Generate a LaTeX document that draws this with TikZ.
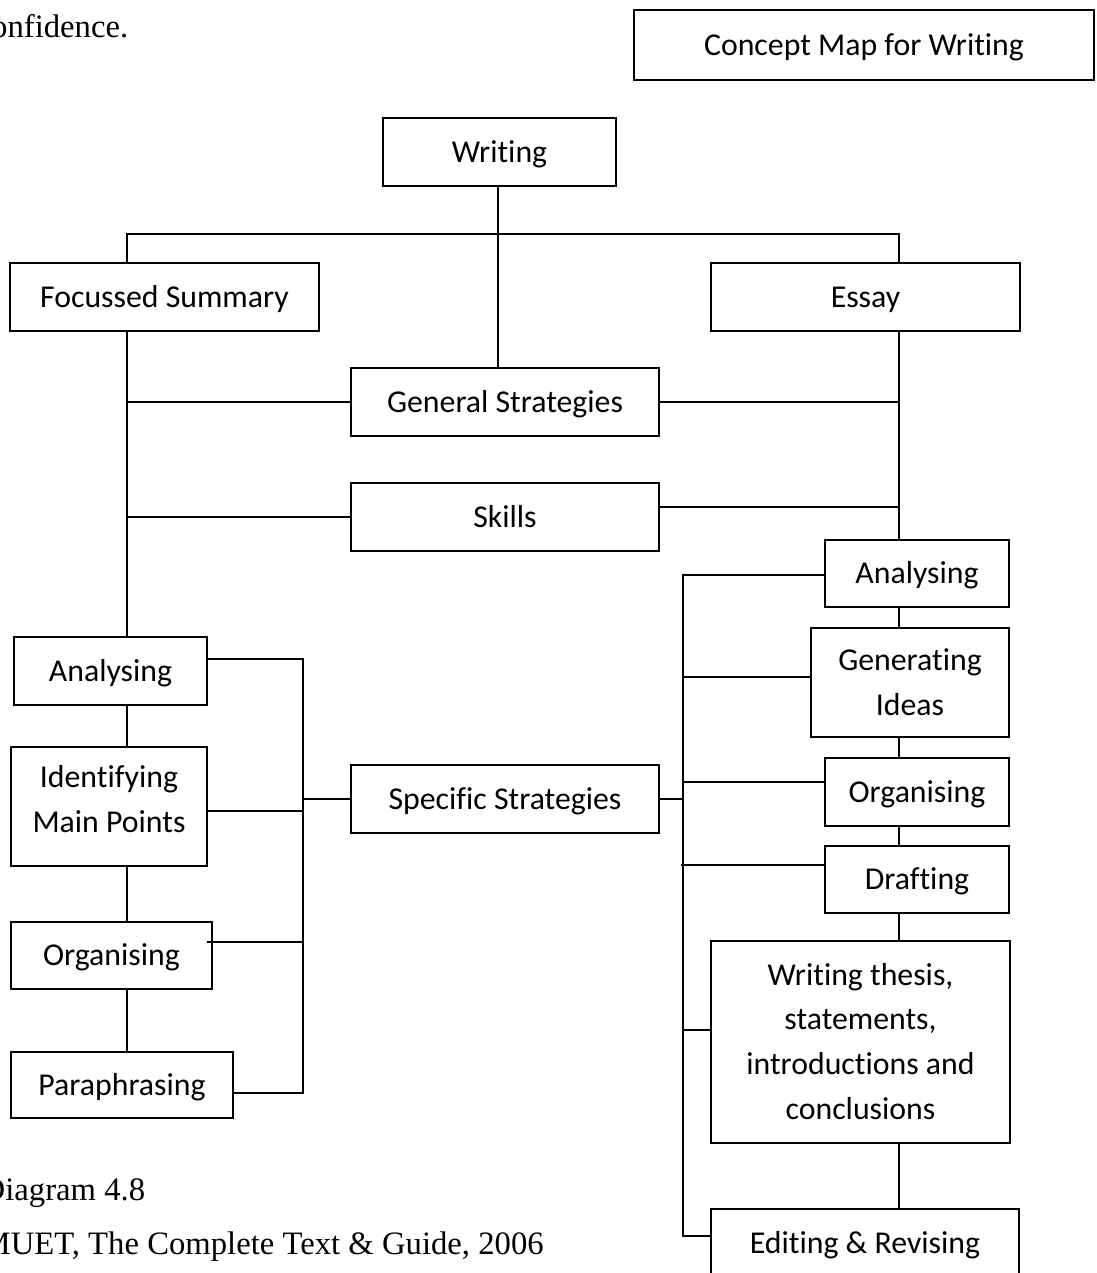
\documentclass[tikz,border=0pt]{standalone}
\usepackage{fontspec}
\setmainfont{Carlito}[Ligatures=NoCommon]
\newfontfamily\tnr{Liberation Serif}
\usetikzlibrary{calc}
\begin{document}
\begin{tikzpicture}[x=1pt,y=-1pt,
  box/.style={draw, line width=1.5pt, inner sep=0pt, outer sep=0pt,
    align=center, font=\fontsize{31.8}{44.6}\selectfont,
    text height=20.5pt, text depth=0pt},
  two/.style={text height=65.1pt},
  four/.style={text height=154.3pt},
  link/.style={line width=1.5pt},
  caption/.style={anchor=base west, inner sep=0pt, font=\tnr\fontsize{32.7}{38}\selectfont}]
\clip (0,0) rectangle (1096,1273);

% loose page text
\node[caption] (conf) at (-9,38) {onfidence.};
\node[caption] (diag) at (-18.5,1200) {Diagram 4.8};
\node[caption] (src)  at (-18.5,1254) {MUET, The Complete Text \& Guide, 2006};

% title box
\node[box, minimum width=460pt, minimum height=70pt] (title) at (864,45) {Concept Map for Writing};

% upper level
\node[box, minimum width=233pt, minimum height=68pt] (writing) at (499.5,152) {Writing};
\node[box, minimum width=309pt, minimum height=68pt] (fs) at (164.5,297) {Focussed Summary};
\node[box, minimum width=309pt, minimum height=68pt] (essay) at (865.5,297) {Essay};
\node[box, minimum width=308pt, minimum height=68pt] (gs) at (505,402) {General Strategies};
\node[box, minimum width=308pt, minimum height=68pt] (sk) at (505,517) {Skills};
\node[box, minimum width=308pt, minimum height=68pt] (ss) at (505,799) {Specific Strategies};

% summary branch
\node[box, minimum width=193pt, minimum height=68pt] (la) at (110.5,671) {Analysing};
\node[box, two, text depth=14pt, minimum width=196pt, minimum height=119pt] (id) at (109,806.5) {Identifying\\Main Points};
\node[box, minimum width=201pt, minimum height=67pt] (lo) at (111.5,955.5) {Organising};
\node[box, minimum width=222pt, minimum height=66pt] (pa) at (122,1085) {Paraphrasing};

% essay branch
\node[box, minimum width=184pt, minimum height=67pt] (ra) at (917,573.5) {Analysing};
\node[box, two, minimum width=198pt, minimum height=109pt] (gi) at (910,682.5) {Generating\\Ideas};
\node[box, minimum width=184pt, minimum height=68pt] (ro) at (917,792) {Organising};
\node[box, minimum width=184pt, minimum height=67pt] (dr) at (917,879.5) {Drafting};
\node[box, four, minimum width=299pt, minimum height=202pt] (wt) at (860.5,1042) {Writing thesis,\\statements,\\introductions and\\conclusions};
\node[box, minimum width=308pt, minimum height=68pt] (er) at (865,1243) {Editing \& Revising};

% junction points
\coordinate (lt) at (127,234);
\coordinate (mt) at (498,234);
\coordinate (rt) at (899,234);
\coordinate (lsA) at (303,659);
\coordinate (lsB) at (303,811);
\coordinate (lsC) at (303,942);
\coordinate (lsD) at (303,1093);
\coordinate (rsA) at (683,575);
\coordinate (rsB) at (683,677);
\coordinate (rsC) at (683,782);
\coordinate (rsD) at (683,865);
\coordinate (rsE) at (683,1030);
\coordinate (rsF) at (683,1236);

% top tree
\draw[link] (writing.south -| mt) -- (gs.north -| mt);
\draw[link] (lt |- fs.north) -- (lt) -- (rt) -- (rt |- essay.north);
\draw[link] (lt |- fs.south) -- (lt |- la.north);
\draw[link] (rt |- essay.south) -- (rt |- ra.north);
\draw[link] (gs.west) -- (gs.west -| lt);
\draw[link] (gs.east) -- (gs.east -| rt);
\draw[link] (sk.west) -- (sk.west -| lt);
\draw[link] ($(sk.east)+(0,-10)$) coordinate (skr) -- (skr -| rt);

% summary column
\draw[link] (la.south -| lt) -- (id.north -| lt);
\draw[link] (id.south -| lt) -- (lo.north -| lt);
\draw[link] (lo.south -| lt) -- (pa.north -| lt);
\draw[link] (la.east |- lsA) -- (lsA) -- (lsD) -- (pa.east |- lsD);
\draw[link] (id.east |- lsB) -- (lsB);
\draw[link] ([xshift=-5pt]lo.east |- lsC) -- (lsC);
\draw[link] (ss.west) -- (ss.west -| lsA);

% essay column
\draw[link] (ra.south -| rt) -- (gi.north -| rt);
\draw[link] (gi.south -| rt) -- (ro.north -| rt);
\draw[link] (ro.south -| rt) -- (dr.north -| rt);
\draw[link] (dr.south -| rt) -- (wt.north -| rt);
\draw[link] (wt.south -| rt) -- (er.north -| rt);
\draw[link] (ra.west |- rsA) -- (rsA) -- (rsF) -- (er.west |- rsF);
\draw[link] (gi.west |- rsB) -- (rsB);
\draw[link] (ro.west |- rsC) -- (rsC);
\draw[link] (dr.west |- rsD) -- ([xshift=-2pt]rsD);
\draw[link] (wt.west |- rsE) -- (rsE);
\draw[link] (ss.east) -- (ss.east -| rsA);
\end{tikzpicture}
\end{document}
